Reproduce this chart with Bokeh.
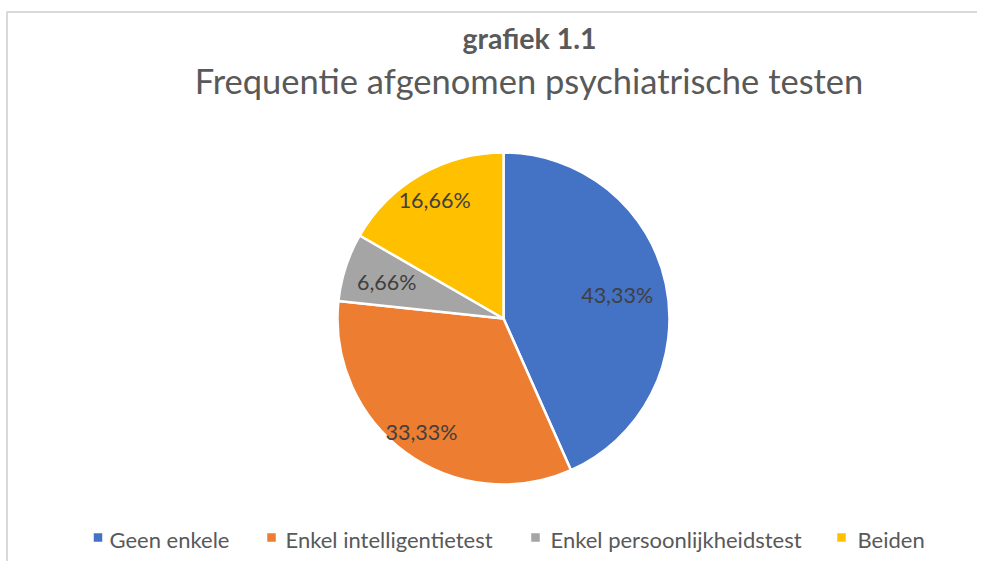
import numpy as np
from bokeh.plotting import figure
from bokeh.models import Range1d, ColumnDataSource
from bokeh.core.properties import value
from bokeh.embed import file_html
from bokeh.resources import INLINE

# ---- data ----
categories = ["Geen enkele", "Enkel intelligentietest", "Enkel persoonlijkheidstest", "Beiden"]
percentages = [43.33, 33.33, 6.66, 16.66]
labels = ["43,33%", "33,33%", "6,66%", "16,66%"]
colors = ["#4472C4", "#ED7D31", "#A5A5A5", "#FFC000"]

# ---- layout (data coords = screen pixels, y measured upward) ----
W, H = 977, 561
cx, cy, R = 503, H - 318, 166
label_r = [0.70, 0.84, 0.74, 0.83]
legend_x = [97.5, 271, 535, 841]
legend_tx = [109, 285, 550, 857]
legend_y = H - 537
FONT = "Lato"
# Bokeh's alphabetic baseline sits ~0.32em low in the svg backend; compensate
K = 0.32


def base(y_px, size):
    return H - y_px + K * size


p = figure(width=W, height=H, output_backend="svg", toolbar_location=None,
           x_range=Range1d(0, W), y_range=Range1d(0, H), min_border=0)
p.axis.visible = False
p.grid.visible = False
p.outline_line_color = None
p.background_fill_color = "white"
p.border_fill_color = "white"

# chart frame (left and top edges; right/bottom cut off like reference)
p.line(x=[6.5, 6.5, W + 5], y=[-5, H - 11.5, H - 11.5], line_color="#D9D9D9", line_width=2)

vals = np.array(percentages, dtype=float)
frac = vals / vals.sum()
cum = np.concatenate([[0.0], np.cumsum(frac)])
start = np.pi / 2 - cum[:-1] * 2 * np.pi
end = np.pi / 2 - cum[1:] * 2 * np.pi
mid = (start + end) / 2

src = ColumnDataSource(dict(cat=categories, start=start, end=end, color=colors))
p.wedge(x=cx, y=cy, radius=R, start_angle="start", end_angle="end", direction="clock",
        fill_color="color", line_color="white", line_width=2.5, source=src)

LS = 21.5
lx = cx + np.array(label_r) * R * np.cos(mid)
ly = cy + np.array(label_r) * R * np.sin(mid) - 8 + K * LS
p.text(x=lx, y=ly, text=labels, text_align="center", text_baseline="alphabetic",
       text_font=value(FONT), text_font_size=f"{LS}px", text_color="#404040")

# titles
p.text(x=[529], y=[base(46.7, 28.5)], text=["grafiek 1.1"], text_align="center", text_baseline="alphabetic",
       text_font=value(FONT), text_font_size="28.5px", text_font_style="bold", text_color="#595959")
p.text(x=[528.5], y=[base(90.7, 34.5)], text=["Frequentie afgenomen psychiatrische testen"], text_align="center",
       text_baseline="alphabetic", text_font=value(FONT), text_font_size="34.5px", text_color="#595959")

# legend
p.rect(x=legend_x, y=[legend_y] * 4, width=8.5, height=8.5, fill_color=colors, line_color=None)
p.text(x=legend_tx, y=[base(546, 22)] * 4, text=categories, text_align="left",
       text_baseline="alphabetic", text_font=value(FONT), text_font_size="22px", text_color="#595959")

open("out.html", "w").write(file_html(p, INLINE))
